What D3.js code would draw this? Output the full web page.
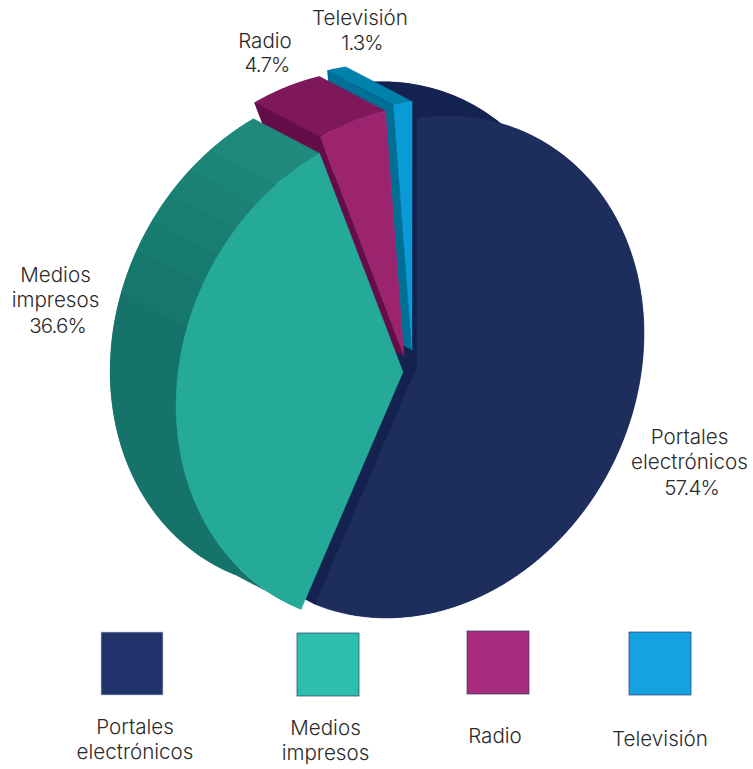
<!DOCTYPE html>
<html>
<head>
<meta charset="utf-8">
<script src="https://cdn.jsdelivr.net/npm/d3@7"></script>
<style>
	html, body { margin: 0; padding: 0; background: #fff; }
	svg { display: block; }
	text { font-family: "Inter", "Roboto", sans-serif; font-weight: 300; fill: #2a2a2a; }
</style>
</head>
<body>
<div id="container"></div>
<script>
	// data
	const categories = ["Portales electrónicos", "Medios impresos", "Radio", "Televisión"];
	const shares = [57.4, 36.6, 4.7, 1.3];
	const shareLabels = ["57.4%", "36.6%", "4.7%", "1.3%"];
	// where the shading bands change on the side of the green slice, in % round the pie
	const greenBandStops = [57.4, 80.1, 82.8, 84.9, 86.9, 88.8, 90.6, 94];

	const faceColors = ["#1d2e5c", "#25a998", "#9c246e", "#0a9ad6"];
	const sideColors = ["#142250", "#16746a", "#7f175b", "#0081ad"];
	const wallColors = ["#142250", "#16746a", "#650d49", "#006f96"];
	const swatchColors = ["#20336a", "#2bbfac", "#a82c7e", "#14a3e0"];
	const greenBandColors = ["#15736a", "#16776c", "#177b6f", "#187e72", "#1a8174", "#1b8577", "#1f8a7b"];

	const width = 753, height = 769;

	// the tilted disc: centre, semi axes, axis direction, depth of the extrusion
	const cx = 417, cy = 367, a = 258.5, b = 218.4;
	const major = [0.447, -0.894], minor = [0.894, 0.447];
	const depth = [-66, -34.5];
	const startT = -30.6 * Math.PI / 180;
	const explode = [[0, 0], [-14, 5], [-13, -11], [-5, -17]];

	const svg = d3.select("#container").append("svg").attr("width", width).attr("height", height);

	const pctToAngle = d3.scaleLinear().domain([0, 100]).range([0, 2 * Math.PI]);
	const arcs = d3.pie().sort(null).value(d => d)(shares);
	const line = d3.line();

	function rim(angle, off, deep) {
		const t = angle + startT;
		const u = a * Math.cos(t), v = b * Math.sin(t);
		return [
			cx + off[0] + u * major[0] + v * minor[0] + (deep ? depth[0] : 0),
			cy + off[1] + u * major[1] + v * minor[1] + (deep ? depth[1] : 0)
		];
	}
	function apex(off, deep) {
		return [cx + off[0] + (deep ? depth[0] : 0), cy + off[1] + (deep ? depth[1] : 0)];
	}
	function rimPoints(a0, a1, off, deep) {
		const n = Math.max(2, Math.ceil((a1 - a0) / 0.01));
		return d3.range(n + 1).map(i => rim(a0 + (a1 - a0) * i / n, off, deep));
	}
	function cross(p, q, r) {
		return (q[0] - p[0]) * (r[1] - p[1]) - (q[1] - p[1]) * (r[0] - p[0]);
	}

	// painted back to front
	const order = [0, 3, 2, 1];

	order.forEach(function(i) {
		const d = arcs[i], off = explode[i];
		const g = svg.append("g");

		// back face
		g.append("path")
			.attr("d", line([apex(off, true)].concat(rimPoints(d.startAngle, d.endAngle, off, true))) + "Z")
			.attr("fill", sideColors[i]);

		// outer side, split in bands on the green slice
		const stops = i === 1 ? greenBandStops.map(pctToAngle) : [d.startAngle, d.endAngle];
		d3.pairs(stops).forEach(function(p, k) {
			const col = i === 1 ? greenBandColors[k] : sideColors[i];
			g.append("path")
				.attr("d", line(rimPoints(p[0], p[1], off, false).concat(rimPoints(p[0], p[1], off, true).reverse())) + "Z")
				.attr("fill", col).attr("stroke", col).attr("stroke-width", 0.4);
		});
		if (i === 1) {
			stops.slice(1, -1).forEach(function(s) {
				g.append("path")
					.attr("d", line([rim(s, off, false), rim(s, off, true)]))
					.attr("stroke", "#3aa394").attr("stroke-width", 0.5).attr("stroke-opacity", 0.3);
			});
		}

		// cut walls, only the ones that face the viewer
		const mid = rim((d.startAngle + d.endAngle) / 2, off, false);
		[d.endAngle, d.startAngle].forEach(function(ang) {
			const A = apex(off, false), R = rim(ang, off, false);
			const E = [A[0] + depth[0], A[1] + depth[1]];
			if (cross(A, R, E) * cross(A, R, mid) < 0) {
				g.append("path")
					.attr("d", line([A, R, rim(ang, off, true), apex(off, true)]) + "Z")
					.attr("fill", wallColors[i]).attr("stroke", wallColors[i]).attr("stroke-width", 0.4);
			}
		});

		// front face
		g.append("path")
			.attr("d", line([apex(off, false)].concat(rimPoints(d.startAngle, d.endAngle, off, false))) + "Z")
			.attr("fill", faceColors[i])
			.attr("stroke", d3.color(faceColors[i]).brighter(0.5)).attr("stroke-width", 0.5).attr("stroke-opacity", 0.6);
	});

	// labels round the pie
	const labelLines = [
		["Portales", "electrónicos", shareLabels[0]],
		["Medios", "impresos", shareLabels[1]],
		[categories[2], shareLabels[2]],
		[categories[3], shareLabels[3]]
	];
	const labelPos = [[689.5, 443.5], [55.5, 281.5], [265, 47.5], [360, 24.5]];
	const labelGap = [25.5, 25.5, 24.5, 25];

	labelLines.forEach(function(rows, i) {
		svg.append("g").selectAll("text").data(rows).enter().append("text")
			.attr("x", r => labelPos[i][0] + (shareLabels.includes(r) ? 2 : 0))
			.attr("y", (r, k) => labelPos[i][1] + k * labelGap[i])
			.attr("text-anchor", "middle")
			.attr("font-size", 20.6)
			.attr("letter-spacing", r => shareLabels.includes(r) ? -0.9 : 0)
			.text(r => r);
	});

	// legend
	const swatchX = [101, 297, 467, 629];
	const swatchY = [632, 633, 631, 632];
	const legendLines = [["Portales", "electrónicos"], ["Medios", "impresos"], [categories[2]], [categories[3]]];
	const legendTextX = [135, 325.5, 495, 660];
	const legendTextY = [733.5, 734.5, 742.5, 745.5];

	categories.forEach(function(c, i) {
		svg.append("rect")
			.attr("x", swatchX[i]).attr("y", swatchY[i])
			.attr("width", 62).attr("height", 63)
			.attr("fill", swatchColors[i])
			.attr("stroke", i === 0 ? "#c5cbdc" : "#2b3a70")
			.attr("stroke-width", 0.7);
		svg.append("g").selectAll("text").data(legendLines[i]).enter().append("text")
			.attr("x", legendTextX[i])
			.attr("y", (r, k) => legendTextY[i] + k * 25.5)
			.attr("text-anchor", "middle")
			.attr("font-size", 20.6)
			.text(r => r);
	});
</script>
</body>
</html>
